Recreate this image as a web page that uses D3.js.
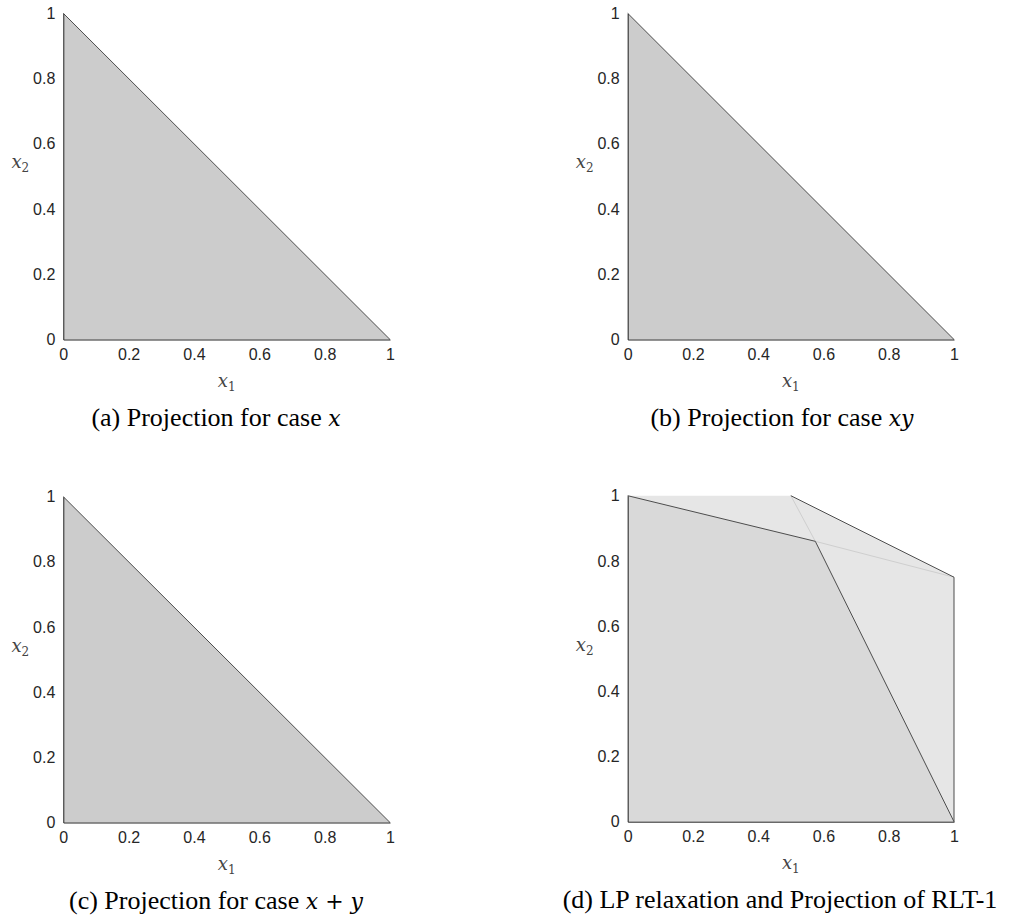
<!DOCTYPE html>
<html>
<head>
<meta charset="utf-8">
<script src="https://cdn.jsdelivr.net/npm/d3@7"></script>
<style>
  body { margin: 0; background: #fff; }
</style>
</head>
<body>
<svg id="chart" width="1010" height="920"></svg>
<script>
// Ticks shared by every panel.
const tickValues = [0, 0.2, 0.4, 0.6, 0.8, 1];

// Projection triangle (cases x, xy, x + y).
const triangle = [[0, 0], [0, 1], [1, 0]];

// LP relaxation polygon (lighter) and RLT-1 projection (darker).
const lpRelaxation = [[0, 0], [0, 1], [0.5, 1], [1, 0.75], [1, 0]];
const rltProjection = [[0, 0], [0, 1], [0.575, 0.86], [1, 0]];
const lpDarkEdges = [[[0.5, 1], [1, 0.75]], [[1, 0.75], [1, 0]]];
const faintEdges = [[[0.5, 1], [0.575, 0.86]], [[0.575, 0.86], [1, 0.75]]];

const panels = [
    { caption: ['(a) Projection for case ', 'x'], left: 63.3, right: 390, top: 13.3, bottom: 339.5, capX: 216, type: 'tri' },
    { caption: ['(b) Projection for case ', 'xy'], left: 627.7, right: 954, top: 13.3, bottom: 339.5, capX: 782, type: 'tri' },
    { caption: ['(c) Projection for case ', 'x + y'], left: 63.3, right: 390, top: 496.7, bottom: 822.5, capX: 216, type: 'tri' },
    { caption: ['(d) LP relaxation and Projection of RLT-1', ''], left: 627.7, right: 954, top: 495.7, bottom: 821.7, capX: 780, type: 'lp' },
];

const svg = d3.select('#chart');
const sans = 'Arial, "Liberation Sans", sans-serif';
const serif = '"Liberation Serif", "Times New Roman", serif';
const mathFont = '"DejaVu Serif", "Liberation Serif", serif';

panels.forEach(p => {
    const g = svg.append('g');
    const x = d3.scaleLinear().domain([0, 1]).range([p.left, p.right]);
    const y = d3.scaleLinear().domain([0, 1]).range([p.bottom, p.top]);
    const line = d3.line().x(d => x(d[0])).y(d => y(d[1]));

    if (p.type === 'tri') {
        g.append('path')
            .attr('d', line(triangle) + 'Z')
            .attr('fill', '#cccccc');
        g.append('path')
            .attr('d', line([triangle[1], triangle[2]]))
            .attr('fill', 'none')
            .attr('stroke', '#4d4d4d')
            .attr('stroke-width', 1);
    } else {
        g.append('path')
            .attr('d', line(lpRelaxation) + 'Z')
            .attr('fill', '#e6e6e6');
        g.append('path')
            .attr('d', line(rltProjection) + 'Z')
            .attr('fill', '#d9d9d9');
        faintEdges.forEach(e => {
            g.append('path').attr('d', line(e)).attr('fill', 'none')
                .attr('stroke', '#cfcfcf').attr('stroke-width', 1);
        });
        g.append('path')
            .attr('d', line(rltProjection.slice(1)))
            .attr('fill', 'none').attr('stroke', '#4d4d4d').attr('stroke-width', 1);
        lpDarkEdges.forEach(e => {
            g.append('path').attr('d', line(e)).attr('fill', 'none')
                .attr('stroke', '#4d4d4d').attr('stroke-width', 1);
        });
    }

    // Axes.
    const xAxis = g.append('g')
        .attr('transform', `translate(0, ${p.bottom})`)
        .call(d3.axisBottom(x).tickValues(tickValues).tickSize(0).tickPadding(9).tickFormat(d3.format('~g')));
    const yAxis = g.append('g')
        .attr('transform', `translate(${p.left}, 0)`)
        .call(d3.axisLeft(y).tickValues(tickValues).tickSize(0).tickPadding(8).tickFormat(d3.format('~g')));
    [xAxis, yAxis].forEach(a => {
        a.attr('font-family', sans).attr('font-size', 16);
        a.selectAll('.tick text').attr('fill', '#262626');
        a.select('.domain').attr('stroke', '#262626');
    });

    // Axis labels.
    const xl = g.append('text')
        .attr('font-family', mathFont).attr('font-style', 'italic').attr('font-size', 18).attr('fill', '#444')
        .attr('x', (p.left + p.right) / 2).attr('y', p.bottom + 47).attr('text-anchor', 'middle');
    xl.append('tspan').text('x');
    xl.append('tspan').attr('font-size', 12).attr('font-style', 'normal').attr('dy', 4).text('1');

    const yl = g.append('text')
        .attr('font-family', mathFont).attr('font-style', 'italic').attr('font-size', 18).attr('fill', '#444')
        .attr('x', p.left - 43).attr('y', (p.top + p.bottom) / 2 - 8).attr('text-anchor', 'middle');
    yl.append('tspan').text('x');
    yl.append('tspan').attr('font-size', 12).attr('font-style', 'normal').attr('dy', 4).text('2');

    // Caption.
    const cap = g.append('text')
        .attr('font-family', serif).attr('font-size', 26).attr('fill', '#000')
        .attr('x', p.capX).attr('y', p.bottom + 86).attr('text-anchor', 'middle');
    cap.append('tspan').text(p.caption[0]);
    if (p.caption[1]) {
        cap.append('tspan').attr('font-style', 'italic').attr('font-family', mathFont)
            .attr('font-size', 22).text(p.caption[1]);
    }
});
</script>
</body>
</html>
